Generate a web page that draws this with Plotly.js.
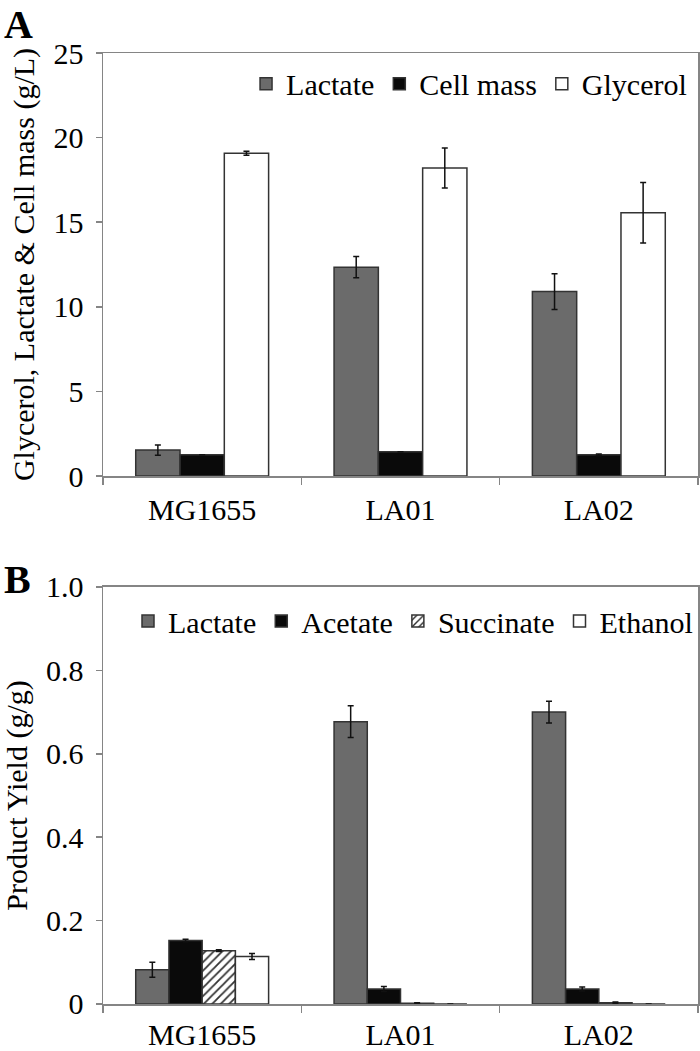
<!DOCTYPE html>
<html>
<head>
<meta charset="utf-8">
<script src="https://cdn.plot.ly/plotly-3.0.1.min.js"></script>
<style>
  body { margin: 0; background: #fff; }
  #graph { width: 700px; height: 1051px; }
</style>
</head>
<body>
<div id="graph"></div>
<script>
// strains on the x axis of both panels
let strains = ["MG1655", "LA01", "LA02"];

// panel A, titers in g/L
let lactateA = [1.53, 12.34, 10.9];
let lactateAErr = [0.3, 0.63, 1.06];
let cellMass = [1.25, 1.44, 1.25];
let cellMassErr = [0, 0, 0.05];
let glycerol = [19.08, 18.2, 15.56];
let glycerolErr = [0.12, 1.18, 1.79];

// panel B, yields in g/g
let lactateB = [0.082, 0.677, 0.70];
let lactateBErr = [0.018, 0.038, 0.026];
let acetate = [0.152, 0.036, 0.036];
let acetateErr = [0.003, 0.006, 0.005];
let succinate = [0.128, 0.002, 0.003];
let succinateErr = [0.002, 0.001, 0.002];
let ethanol = [0.114, 0, 0];
let ethanolErr = [0.007, 0, 0];

let ticksA = [0, 5, 10, 15, 20, 25];
let ticksB = [0, 0.2, 0.4, 0.6, 0.8, 1.0];
let tickTextB = ["0", "0.2", "0.4", "0.6", "0.8", "1.0"];

const serif = "'Liberation Serif'";
const outline = { color: "#333", width: 1.5 };

function errBar(arr) {
  return { type: "data", array: arr, visible: true, color: "#111", thickness: 1.5, width: 3 };
}

function bar(name, y, err, fill, axis, legend, pattern) {
  let marker = { color: fill, line: outline };
  if (pattern) marker.pattern = pattern;
  return {
    type: "bar", name: name, x: strains, y: y,
    error_y: errBar(err),
    marker: marker,
    xaxis: axis[0], yaxis: axis[1],
    legend: legend
  };
}

let data = [
  bar("Lactate", lactateA, lactateAErr, "#6b6b6b", ["x", "y"], "legend"),
  bar("Cell mass", cellMass, cellMassErr, "#0a0a0a", ["x", "y"], "legend"),
  bar("Glycerol", glycerol, glycerolErr, "#ffffff", ["x", "y"], "legend"),
  bar("Lactate", lactateB, lactateBErr, "#6b6b6b", ["x2", "y2"], "legend2"),
  bar("Acetate", acetate, acetateErr, "#0a0a0a", ["x2", "y2"], "legend2"),
  bar("Succinate", succinate, succinateErr, "#ffffff", ["x2", "y2"], "legend2",
      { shape: "/", fgcolor: "#333", bgcolor: "#fff", size: 6, solidity: 0.3 }),
  bar("Ethanol", ethanol, ethanolErr, "#ffffff", ["x2", "y2"], "legend2")
];

const axisLine = {
  showline: true, linecolor: "#858585", linewidth: 1.5, mirror: true,
  showgrid: false, zeroline: false,
  ticks: "outside", tickcolor: "#858585", tickwidth: 1.5,
  tickfont: { family: serif, size: 30, color: "#000" }
};

let layout = {
  width: 700, height: 1051,
  margin: { l: 103, r: 2, t: 53, b: 47 },
  paper_bgcolor: "#fff", plot_bgcolor: "#fff",
  font: { family: serif, color: "#000" },
  barmode: "group",
  showlegend: true,
  xaxis: Object.assign({}, axisLine, {
    anchor: "y", type: "category", tickson: "boundaries", ticklen: 7,
    ticklabelstandoff: 6, domain: [0, 1]
  }),
  yaxis: Object.assign({}, axisLine, {
    anchor: "x", domain: [0.5552, 1], range: [0, 25],
    tickvals: ticksA, ticklen: 6, ticklabelstandoff: 6,
    title: { text: "Glycerol, Lactate &amp; Cell mass (g/L)", font: { family: serif, size: 30 }, standoff: 10 }
  }),
  xaxis2: Object.assign({}, axisLine, {
    anchor: "y2", type: "category", tickson: "boundaries", ticklen: 7,
    ticklabelstandoff: 3, domain: [0, 1]
  }),
  yaxis2: Object.assign({}, axisLine, {
    anchor: "x2", domain: [0, 0.4385], range: [0, 1.0],
    tickvals: ticksB, ticktext: tickTextB, ticklen: 6, ticklabelstandoff: 6,
    title: { text: "Product Yield (g/g)", font: { family: serif, size: 30 }, standoff: 10 }
  }),
  bargap: 0.33,
  legend: {
    orientation: "h", x: 0.99, xanchor: "right", y: 0.995, yanchor: "top",
    bgcolor: "rgba(0,0,0,0)", font: { family: serif, size: 30 },
    traceorder: "normal", itemwidth: 30
  },
  legend2: {
    orientation: "h", x: 1.0, xanchor: "right", y: 0.43, yanchor: "top",
    bgcolor: "rgba(0,0,0,0)", font: { family: serif, size: 30 },
    traceorder: "normal", itemwidth: 30
  },
  annotations: [
    { text: "<b>A</b>", xref: "paper", yref: "paper", x: -0.17, y: 1.056, xanchor: "left", yanchor: "top",
      showarrow: false, font: { family: serif, size: 40 } },
    { text: "<b>B</b>", xref: "paper", yref: "paper", x: -0.17, y: 0.472, xanchor: "left", yanchor: "top",
      showarrow: false, font: { family: serif, size: 40 } }
  ]
};

Plotly.newPlot("graph", data, layout, { staticPlot: true });
</script>
</body>
</html>
